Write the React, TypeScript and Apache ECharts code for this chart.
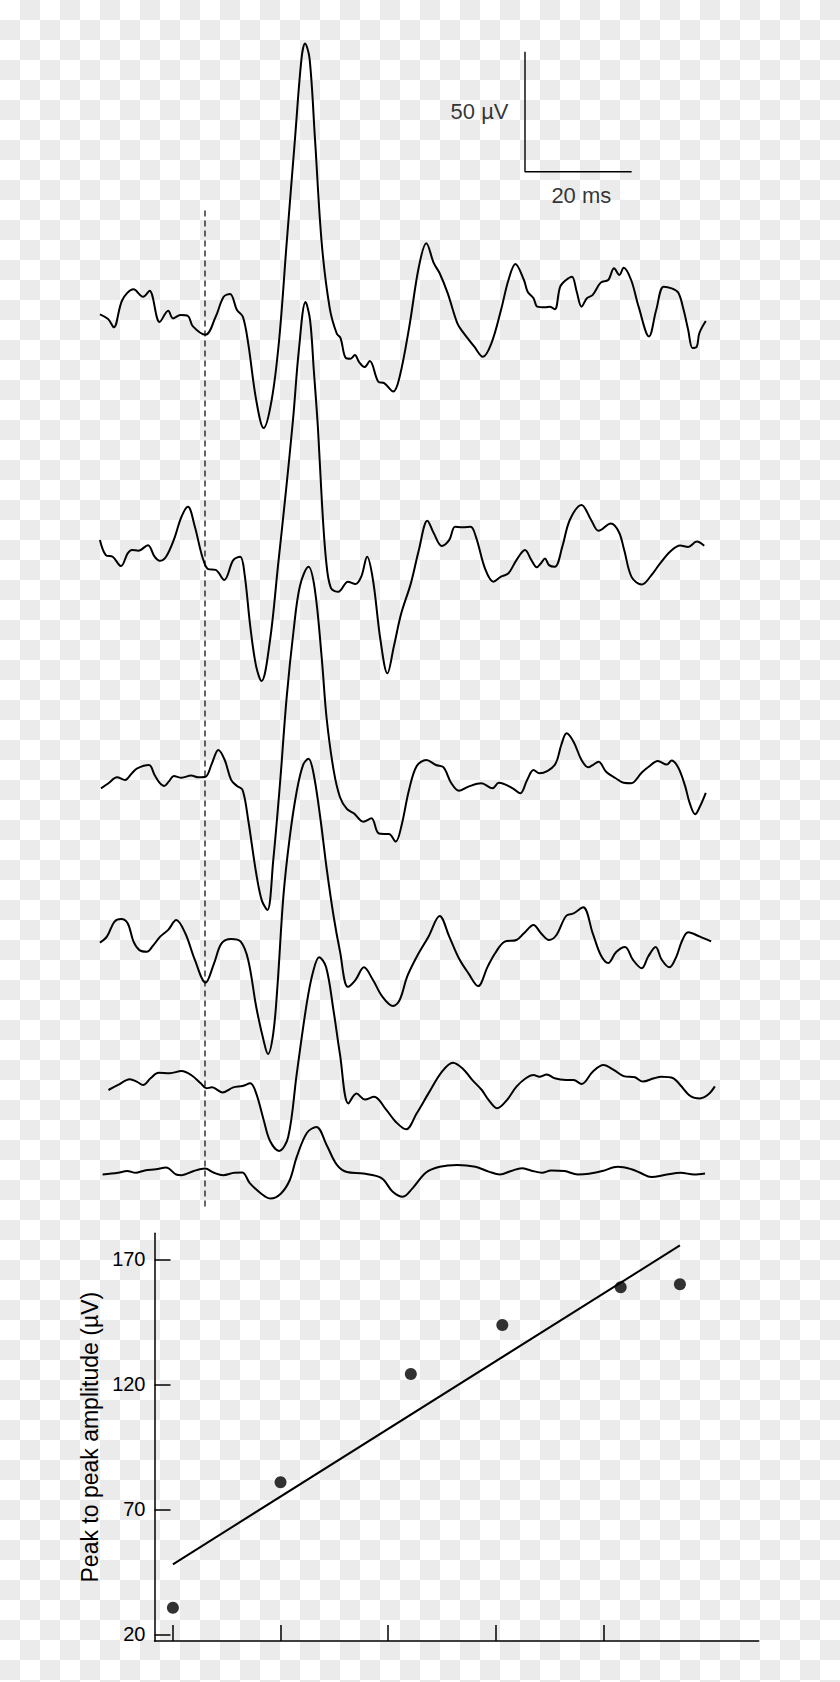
import React, { useEffect, useRef } from "react";
import * as echarts from "echarts";

// ---- Evoked potential traces: [time (ms from stimulus), amplitude (µV from own baseline)] ----
const trace1: [number, number][] = [
  [-19.7, -1.8], [-18.1, -3.9], [-17.1, -7.2], [-15.5, 4.2], [-13.4, 8.6], [-11.6, 5.5], [-10.4, 8.0],
  [-8.5, -5.0], [-6.9, -0.3], [-6.0, -3.5], [-4.6, -2.1], [-3.2, -2.5], [-2.3, -6.7], [0.1, -10.3],
  [2.0, -2.8], [3.5, 5.5], [4.7, 6.7], [6.0, 0], [7.1, -2.8], [8.1, -13.9], [9.6, -37.5], [11.0, -49.2],
  [12.5, -37.5], [13.9, -12.5], [15.3, 27.5], [16.9, 72.1], [18.1, 104.8], [18.75, 111], [19.6, 104.8],
  [20.6, 72.1], [21.9, 27.5], [23.4, 0.6], [24.7, -9.8], [25.4, -11.6], [26.4, -20], [27.3, -20.3],
  [28.1, -18.8], [28.9, -21.7], [29.9, -23.8], [30.9, -21.3], [32.5, -29.9], [33.6, -30.5], [35.3, -34],
  [36.5, -27.8], [38.3, -7], [40.1, 18], [41.5, 27.8], [42.9, 19.5], [44, 15.3], [45.5, 7], [47.3, -5.5],
  [48.3, -9], [50.5, -15.3], [52.1, -19.5], [53.7, -13.9], [55.5, 0], [56.9, 12.5], [58.2, 19.2],
  [59.8, 12.5], [60.5, 7.6], [61.6, 4.9], [62.3, 1.4], [63.75, 1.1], [64.7, 1.4], [65.6, 0.3], [66.6, 9.7],
  [67.7, 12.5], [68.8, 13.9], [69.7, 7.6], [70.6, 1.4], [71.6, 4.9], [72.7, 6.3], [74.2, 11.4], [75.6, 12.5],
  [76.7, 17.4], [77.7, 14.6], [78.5, 17.6], [79.9, 12.5], [81.3, 1.4], [83.25, -11], [84.6, 0], [86, 9.7],
  [87.5, 9], [88.75, 7.2], [89.7, 0.4], [90.6, -8.3], [91.4, -15.8], [92.2, -15.3], [92.7, -9.6], [93.9, -4.6],
];

const trace2: [number, number][] = [
  [-19.7, 4.2], [-18.6, -2.1], [-17.3, -2.8], [-15.75, -6.7], [-14.5, -1.4], [-13.7, 0], [-12.5, -0.3],
  [-10.7, 2.0], [-9.45, -2.8], [-8.5, -4.5], [-7.3, -2.8], [-5.85, 4.2], [-4.4, 13.9], [-3.2, 18],
  [-1.9, 9.7], [-0.5, -2.8], [0.6, -8], [2.0, -8.3], [3.6, -12.5], [5.3, -4.2], [6.6, -2.8], [7.4, -9.7],
  [8.5, -32], [9.6, -48.6], [10.6, -54.6], [12.2, -37.5], [13.7, -6.3], [15, 20.8], [16.5, 54.2],
  [17.6, 83.3], [18.85, 103.3], [19.7, 95.8], [20.4, 75], [21.2, 50], [21.9, 20.8], [22.7, -4.2],
  [23.6, -15.8], [25, -17.4], [26.8, -13.2], [28.2, -14.2], [29.3, -11.1], [30.4, -2.8], [31.5, -12.5],
  [32.9, -37.5], [34.2, -51.4], [35.4, -40.3], [36.8, -26.4], [38.6, -13.9], [40.1, 0], [41.7, 12.2],
  [42.9, 7], [44.4, 1.7], [45.8, 4.2], [46.9, 9.7], [48.3, 9.5], [49.8, 9.7], [50.8, 5.5], [52.6, -8.3],
  [54.1, -13.2], [55.5, -11.1], [56.9, -9.7], [58.4, -4.2], [60, 0], [61.2, -4.2], [62.2, -7.2], [63, -5.5],
  [63.75, -3.5], [64.5, -6.3], [65.6, -7], [67, 1.4], [68.4, 12.5], [70.6, 18.75], [72.4, 12.5], [73.8, 8],
  [76.1, 11], [77.6, 7.5], [78.6, 0], [80, -11.3], [81.9, -14.4], [83.6, -10.8], [85.3, -5.7], [87.2, -0.7],
  [89.1, 1.9], [90.6, 1.25], [92.2, 3.5], [93.6, 1.75],
];

const trace3: [number, number][] = [
  [-19.5, -4.3], [-18.1, -2.2], [-16.5, 0.3], [-15, -0.8], [-13.7, 2], [-12.7, 4], [-10.5, 5.4],
  [-9.45, 1.25], [-8.5, -2], [-7.65, -3.3], [-6.8, -1.5], [-5.85, 0.8], [-4.4, 0.1], [-2.6, 1], [-1.2, 0.3],
  [0.1, 0.5], [1.3, 6.1], [2.5, 11.7], [3.7, 7.5], [4.9, -0.8], [6.0, -3.3], [7.05, -5], [8.1, -17.5],
  [9.6, -39.7], [10.65, -51], [11.7, -55], [12.8, -34.2], [14.1, -1.25], [15.3, 33.3], [16.6, 61.25],
  [17.8, 80], [19.4, 88], [20.6, 78.5], [21.9, 49.7], [22.8, 25], [24.1, 3.5], [25.3, -7.9], [26.6, -12.9],
  [27.9, -14.7], [29.7, -18.2], [31.2, -16.8], [32.5, -23], [33.6, -23.3], [34.5, -23.3], [35.75, -26.5],
  [36.8, -20.3], [38.25, -5], [39.7, 5], [41.5, 7.5], [43.3, 5.4], [44.7, 4.5], [46.2, -2.2], [47.6, -5.3],
  [49.4, -3.6], [51.8, -2.2], [53.9, -4.3], [55.1, -2], [57.7, -4.3], [59.1, -6.4], [60.4, -0.8], [61.6, 3.3],
  [62.7, 2], [65.55, 5.4], [66.8, 13.75], [67.8, 18.6], [69.1, 15.1], [70.6, 7.5], [71.85, 4.5], [72.7, 5.4],
  [73.8, 6.8], [75.2, 2.6], [77, -0.1], [78.5, -2], [79.9, -2.2], [81.9, 2.3], [83.25, 4.8], [84.9, 7.1],
  [86.6, 5.6], [87.5, 7.3], [88.75, 4.3], [90, -3.2], [90.9, -10.6], [91.9, -15.1], [92.8, -11.9], [93.9, -6.2],
];

const trace4: [number, number][] = [
  [-19.7, 1.4], [-18.4, 3.9], [-17, 10.1], [-15.7, 11.25], [-14.5, 9.5], [-13.4, 1.8], [-12.3, -1.7],
  [-10.9, -2.4], [-9.8, 0], [-8.4, 3.9], [-6.9, 6.7], [-5.4, 10.8], [-3.7, 5.3], [-1.9, -5.8], [0.1, -15.3],
  [1.7, -7.2], [3.1, 1.1], [4.9, 2.9], [6.7, 1.8], [8.1, -5.8], [9.6, -25.3], [11, -39.5], [11.8, -45],
  [12.8, -36.4], [13.6, -16.25], [14.7, 20.8], [15.9, 45.5], [17.2, 64.5], [18.4, 75.5], [19.4, 78],
  [20.3, 72.5], [21.6, 53.75], [22.8, 32.5], [24.1, 12.6], [25.3, -2.1], [26.8, -17], [28.2, -14.2],
  [29.8, -8.9], [31.5, -14.2], [33.25, -21.1], [35.25, -25], [36.5, -22.5], [37.9, -12.8], [39.7, -4.5],
  [41.9, 3.9], [44, 12.5], [45.8, 3.9], [47.6, -5.1], [49.4, -11.4], [51.2, -16.7], [53, -8.6], [54.4, -3],
  [56.2, 1.8], [58.4, 2.5], [59.8, 5.3], [61.6, 8.75], [63, 5.3], [64.5, 2.5], [65.9, 4.6], [67.7, 12.5],
  [69.1, 13.6], [70.9, 16.1], [72.7, 5.3], [74.2, -3.75], [75.6, -7.1], [77.1, -2.5], [78.75, -0.4],
  [80.25, -5.8], [81.9, -9.3], [83.1, -4.4], [84.5, -0.4], [85.6, -5.6], [87.1, -8.9], [88.4, -4.3],
  [89.4, 1.9], [90.6, 5.7], [92.8, 3.9], [94.9, 1.9],
];

const trace5: [number, number][] = [
  [-18.1, -3], [-16.3, -0.9], [-14.1, 1.5], [-12.8, 0.5], [-11.6, -0.9], [-10.2, 1.9], [-8.7, 4.2],
  [-6.6, 4], [-4.4, 4.9], [-2.6, 3.25], [-0.8, -0.2], [0.25, -2.3], [1.3, -1.9], [3.3, -4], [5.3, -1.9],
  [7.05, -1.3], [8.5, -0.2], [9.6, -4.4], [11, -15.5], [12.2, -24.25], [13.9, -28.4], [15.6, -22.6],
  [17.2, 3.75], [19.1, 33.4], [20.3, 46.6], [21.4, 52.3], [22.7, 48.25], [24.1, 30.1], [25.3, 12],
  [26.9, -8.6], [28.4, -4.5], [30, -7], [31.7, -5.8], [34, -11.3], [35.75, -16.2], [37.7, -19.4],
  [39.7, -12.7], [41.9, -4.4], [44.4, 4.6], [46.5, 8.4], [48.3, 6], [50.1, 1.2], [51.9, -3], [53.2, -7.2],
  [54.8, -10.6], [56.6, -7.2], [58.4, -1.6], [60.15, 1.9], [61.6, 3.25], [62.7, 2.5], [64.1, 3.5],
  [65.55, 1.9], [67.7, 1.2], [69.1, 1.2], [70.6, -0.5], [72.7, 4.6], [74.7, 7.4], [76.7, 5.3], [78.5, 2.8],
  [80.6, 2.3], [82.1, 0.5], [84.2, 1.9], [85.6, 2.5], [87.8, 1.9], [89.1, -0.9], [91, -5.5], [92.8, -6.5],
  [94.4, -4.8], [95.6, -1.5],
];

const trace6: [number, number][] = [
  [-19.2, -0.2], [-16.3, 0.5], [-14.6, 1.25], [-13, 0.5], [-11.3, 1.5], [-9.2, 2], [-7.3, 2.7], [-5.4, -0.2],
  [-4.4, -0.5], [-2.1, 1.25], [0, 2.25], [1.7, 0.5], [3.4, -0.5], [5.5, 0.5], [7, 0.6], [8.4, -3.8],
  [10.5, -8.1], [12.3, -10.25], [14.25, -8.1], [15.9, -2.5], [17.2, 7.1], [19.1, 17.1], [20.9, 19.6],
  [22.8, 12.1], [24.7, 3.9], [26.6, 0.8], [29.7, 0.2], [33.1, -1.7], [35.2, -7.4], [37.1, -9.5], [38.9, -6],
  [41.4, 0.5], [44, 3], [47.3, 3.8], [50.7, 3], [53.2, 1], [55.3, -0.2], [57.4, 1.25], [59.4, 2.4],
  [61.1, 1.5], [63.2, 0.5], [64.9, 1.5], [67.4, 1.25], [69.9, -0.2], [72, 0.1], [74.5, 1.25], [77.4, 3],
  [79.95, 2], [81.6, 0.5], [83.7, -1.3], [86.6, -0.2], [89.2, 0.5], [91.7, -0.2], [93.75, 0.25],
];

const traces = [trace1, trace2, trace3, trace4, trace5, trace6];
// vertical stacking of the traces (µV added to each trace)
const traceOffsets = [375, 275, 180, 110, 53, 15];

// calibration bar: 50 µV / 20 ms, anchored at its corner
const scaleBar = { t: 60, v: 432.6, ms: 20, uv: 50 };
const scaleLabels = ["50 µV", "20 ms"];
// stimulus marker (dashed) at t = 0
const stimulus = { t: 0, top: 416.5, bottom: 0.5 };

// ---- Scatter: peak to peak amplitude ----
const stimLevel = [0, 1, 2.21, 3.06, 4.16, 4.71];
const peakToPeak = [30.6, 80.8, 124.1, 143.7, 158.8, 160];
const xTicks = [0, 1, 2, 3, 4];
const yTicks = [20, 70, 120, 170];
const yAxisTitle = "Peak to peak amplitude (µV)";

const FONT = "'Liberation Sans', Arial, sans-serif";
const PAGE_W = 840;
const PAGE_H = 1682;
const CELL = 20;

function leastSquares(xs: number[], ys: number[]) {
  const n = xs.length;
  const mx = xs.reduce((a, b) => a + b, 0) / n;
  const my = ys.reduce((a, b) => a + b, 0) / n;
  let sxy = 0;
  let sxx = 0;
  for (let i = 0; i < n; i++) {
    sxy += (xs[i] - mx) * (ys[i] - my);
    sxx += (xs[i] - mx) * (xs[i] - mx);
  }
  const b = sxy / sxx;
  return { a: my - b * mx, b };
}

// transparency-style checkerboard: one dashed band per row of cells
function checkerboard() {
  const rows = Math.ceil(PAGE_H / CELL);
  const els: any[] = [];
  for (let r = 0; r < rows; r++) {
    const yc = r * CELL + CELL / 2;
    els.push({
      type: "line",
      silent: true,
      z: -100,
      shape: { x1: 0, y1: yc, x2: PAGE_W, y2: yc },
      style: {
        stroke: "#ebebeb",
        lineWidth: CELL,
        lineDash: [CELL, CELL],
        lineDashOffset: r % 2 === 0 ? CELL : 0,
        lineCap: "butt",
      },
    });
  }
  return els;
}

export default function App() {
  const ref = useRef<HTMLDivElement>(null);

  useEffect(() => {
    if (!ref.current) return;
    const chart = echarts.init(ref.current, undefined, { renderer: "svg" });

    const fit = leastSquares(stimLevel, peakToPeak);
    const x0 = Math.min(...stimLevel);
    const x1 = Math.max(...stimLevel);

    const traceSeries = traces.map((tr, i) => ({
      type: "line",
      xAxisIndex: 0,
      yAxisIndex: 0,
      data: tr.map(([t, v]) => [t, v + traceOffsets[i]]),
      showSymbol: false,
      symbol: "none",
      smooth: 0.35,
      silent: true,
      lineStyle: { color: "#000", width: 2 },
      z: 3,
    }));

    const option: any = {
      animation: false,
      backgroundColor: "#ffffff",
      textStyle: { fontFamily: FONT },
      graphic: checkerboard(),
      grid: [
        { left: 98.33, top: 10, width: 640, height: 1200 },
        { left: 154.5, top: 1233.3, width: 604.1, height: 407.7 },
      ],
      xAxis: [
        { gridIndex: 0, type: "value", min: -20, max: 100, show: false },
        {
          gridIndex: 1,
          type: "value",
          min: -0.171,
          max: 5.441,
          axisLine: { show: true, onZero: false, lineStyle: { color: "#000", width: 1.5 } },
          axisTick: { show: true, inside: true, length: 16, customValues: xTicks, lineStyle: { color: "#000", width: 1.5 } },
          axisLabel: { show: false },
          splitLine: { show: false },
        },
      ],
      yAxis: [
        { gridIndex: 0, type: "value", min: 0, max: 500, show: false },
        {
          gridIndex: 1,
          type: "value",
          min: 17.32,
          max: 180.4,
          axisLine: { show: true, onZero: false, lineStyle: { color: "#000", width: 1.5 } },
          axisTick: { show: true, inside: true, length: 16, customValues: yTicks, lineStyle: { color: "#000", width: 1.5 } },
          axisLabel: { show: true, customValues: yTicks, margin: 9, fontSize: 20, color: "#000", fontFamily: FONT },
          splitLine: { show: false },
          name: yAxisTitle,
          nameLocation: "middle",
          nameGap: 50,
          nameTextStyle: { fontSize: 23, color: "#000", fontFamily: FONT },
        },
      ],
      series: [
        ...traceSeries,
        {
          type: "line",
          xAxisIndex: 0,
          yAxisIndex: 0,
          data: [
            [stimulus.t, stimulus.top],
            [stimulus.t, stimulus.bottom],
          ],
          showSymbol: false,
          symbol: "none",
          silent: true,
          lineStyle: { color: "#000", width: 1.2, type: [6, 4] },
        },
        {
          type: "line",
          xAxisIndex: 0,
          yAxisIndex: 0,
          data: [
            [scaleBar.t, scaleBar.v + scaleBar.uv],
            [scaleBar.t, scaleBar.v],
            [scaleBar.t + scaleBar.ms, scaleBar.v],
          ],
          showSymbol: false,
          symbol: "none",
          silent: true,
          lineStyle: { color: "#000", width: 1.4 },
        },
        {
          type: "scatter",
          xAxisIndex: 0,
          yAxisIndex: 0,
          symbolSize: 1,
          silent: true,
          itemStyle: { color: "rgba(0,0,0,0)" },
          label: { show: true, color: "#000", fontSize: 22, fontFamily: FONT },
          data: [
            {
              value: [scaleBar.t, scaleBar.v + scaleBar.uv / 2],
              label: { position: "left", distance: 16, formatter: scaleLabels[0] },
            },
            {
              value: [scaleBar.t + scaleBar.ms / 2, scaleBar.v],
              label: { position: "bottom", distance: 12, offset: [3, 0], formatter: scaleLabels[1] },
            },
          ],
        },
        {
          type: "line",
          xAxisIndex: 1,
          yAxisIndex: 1,
          data: [
            [x0, fit.a + fit.b * x0],
            [x1, fit.a + fit.b * x1],
          ],
          showSymbol: false,
          symbol: "none",
          silent: true,
          lineStyle: { color: "#000", width: 2 },
        },
        {
          type: "scatter",
          xAxisIndex: 1,
          yAxisIndex: 1,
          data: stimLevel.map((x, i) => [x, peakToPeak[i]]),
          symbol: "circle",
          symbolSize: 12,
          silent: true,
          itemStyle: { color: "#000" },
          z: 4,
        },
      ],
    };

    chart.setOption(option);
    return () => chart.dispose();
  }, []);

  return (
    <div style={{ position: "absolute", left: 0, top: 0, width: PAGE_W, height: PAGE_H }}>
      <div ref={ref} style={{ width: PAGE_W, height: PAGE_H }} />
    </div>
  );
}
